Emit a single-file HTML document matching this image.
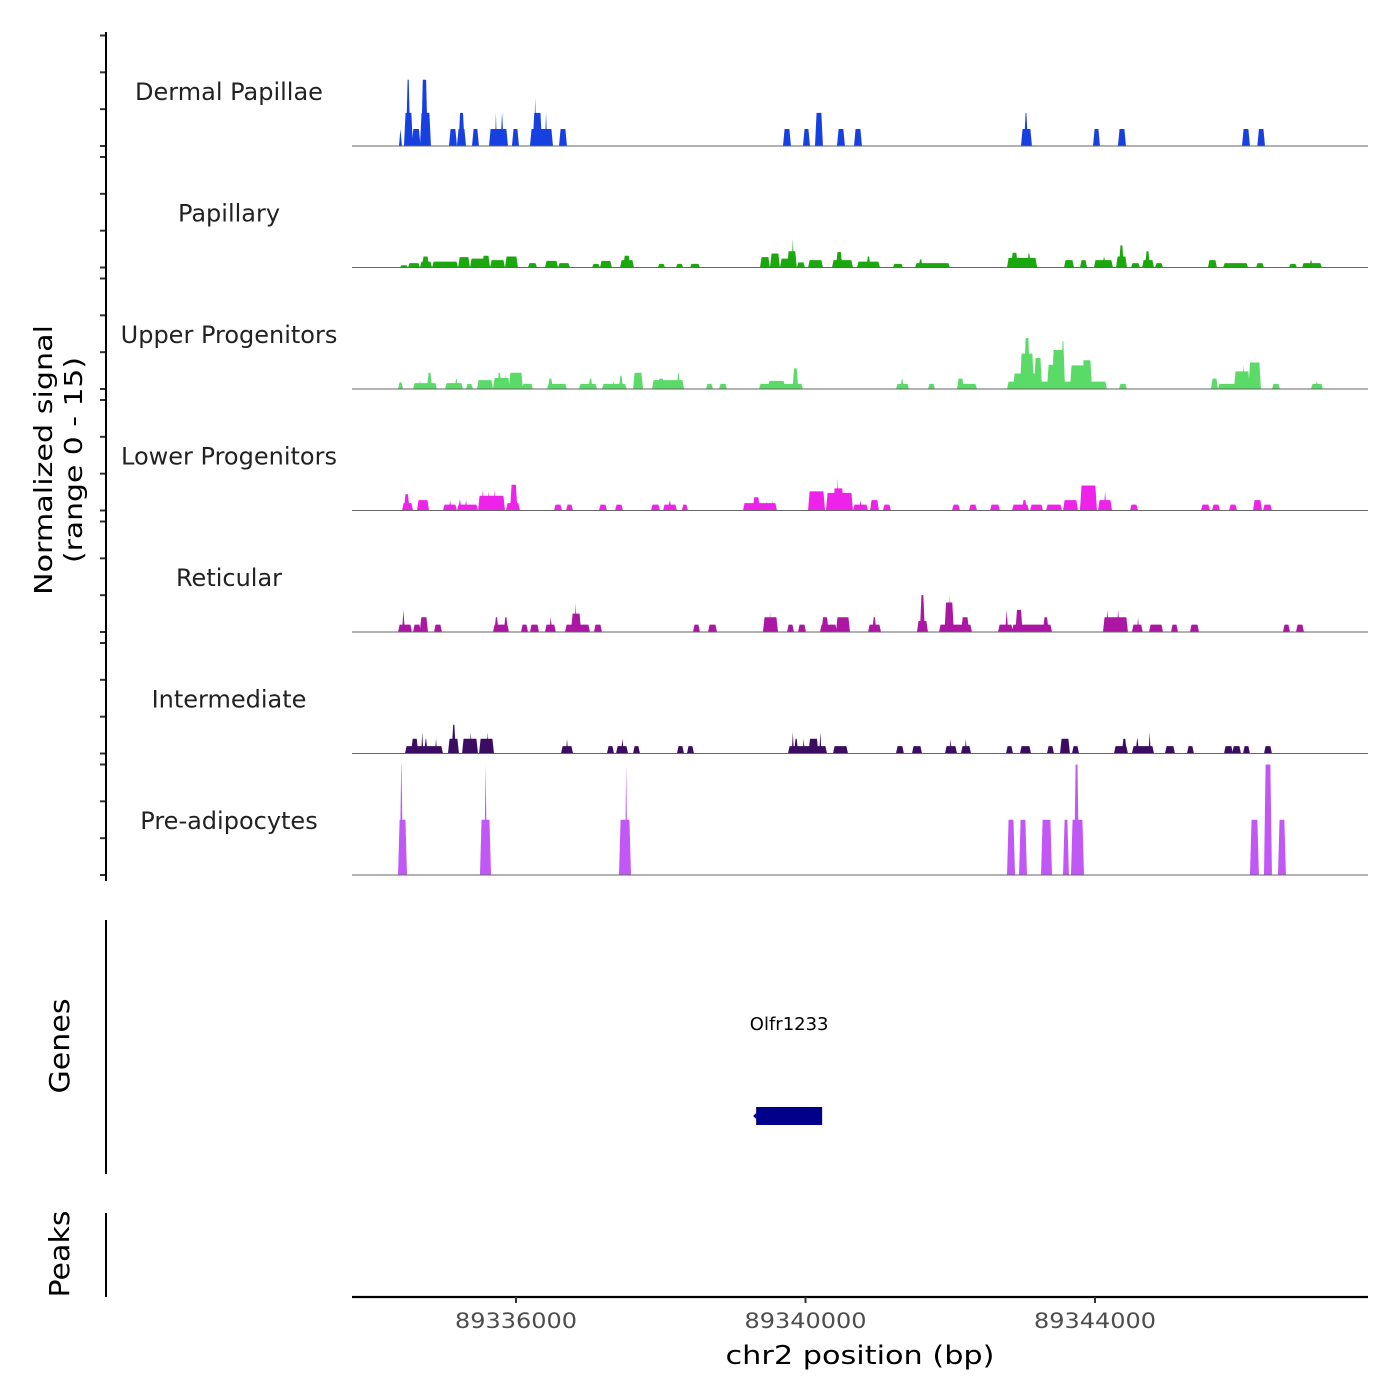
<!DOCTYPE html>
<html>
<head>
<meta charset="utf-8">
<style>
  html,body{margin:0;padding:0;background:#fff;}
  svg{display:block;font-family:"DejaVu Sans","Liberation Sans",sans-serif;}
</style>
</head>
<body>
<svg id="chart" width="1400" height="1400" viewBox="0 0 1400 1400" xmlns="http://www.w3.org/2000/svg">
  <rect x="0" y="0" width="1400" height="1400" fill="#fff"/>
  <g id="tracks"></g>
  <g id="axes"></g>
  <text x="0" y="0" transform="translate(52,460) rotate(-90)" text-anchor="middle" font-size="25" fill="#000"><tspan x="0" dy="0" textLength="270" lengthAdjust="spacingAndGlyphs">Normalized signal</tspan><tspan x="0" dy="30" textLength="206" lengthAdjust="spacingAndGlyphs">(range 0 - 15)</tspan></text>
  <line x1="106" y1="920" x2="106" y2="1174" stroke="#000" stroke-width="2"/>
  <text transform="translate(69,1046) rotate(-90)" text-anchor="middle" font-size="28" fill="#000" textLength="95" lengthAdjust="spacingAndGlyphs">Genes</text>
  <line x1="106" y1="1213" x2="106" y2="1297" stroke="#000" stroke-width="2"/>
  <text transform="translate(69,1254) rotate(-90)" text-anchor="middle" font-size="28" fill="#000" textLength="87" lengthAdjust="spacingAndGlyphs">Peaks</text>
  <g id="genes"></g>
  <text x="860" y="1364" text-anchor="middle" font-size="26" fill="#000" textLength="269" lengthAdjust="spacingAndGlyphs">chr2 position (bp)</text>
</svg>
<script>
// All positions are bp offsets from 89,330,000 on chr2
const BASE = 89330000;
const domainStart = 3734;
const domainEnd = 17772;
const xTickValues = [89336000, 89340000, 89344000];
const xTickLabels = ["89336000", "89340000", "89344000"];
const trackNames = ["Dermal Papillae","Papillary","Upper Progenitors","Lower Progenitors","Reticular","Intermediate","Pre-adipocytes"];
const trackColors = ["#1740E0","#1AA80E","#5ADB68","#EE22E8","#AB16A3","#3C0C62","#C158F6"];
const yTickValues = [0,5,10,15];
const signalMax = 15;

// segments: [startOffset, endOffset, signal]
const dermalPapillae = [[4383,4424,2.3],[4452,4576,4.5],[4480,4540,9],[4560,4680,2.3],[4673,4825,4.5],[4690,4780,9],[5074,5184,2.3],[5184,5309,2.3],[5205,5290,4.5],[5392,5488,2.3],[5627,5889,2.3],[5710,5735,4.5],[5785,5830,4.5],[5944,6041,2.3],[6193,6511,2.3],[6230,6360,4.5],[6250,6280,6.6],[6400,6430,4.5],[6594,6704,2.3],[9689,9799,2.3],[9965,10062,2.3],[10131,10241,4.5],[10435,10545,2.3],[10670,10780,2.3],[12977,13129,2.3],[13019,13074,4.5],[13972,14069,2.3],[14317,14428,2.3],[16031,16141,2.3],[16243,16349,2.3]];
const papillary = [[4397,4508,0.3],[4508,4673,0.6],[4673,4840,0.8],[4700,4800,1.5],[4840,5200,0.8],[5200,5364,1.4],[5364,5641,1.2],[5530,5641,1.6],[5641,5848,1.0],[5848,6027,1.5],[6165,6290,0.6],[6400,6580,0.9],[6580,6746,0.6],[7050,7160,0.5],[7160,7325,0.9],[7437,7630,1.0],[7480,7580,1.6],[7960,8060,0.5],[8210,8310,0.5],[8404,8542,0.5],[9371,9509,1.4],[9509,9647,1.9],[9647,9786,1.2],[9745,9880,2.2],[9810,9840,3.9],[9880,9993,0.7],[10035,10241,1.0],[10366,10656,1.0],[10420,10510,2.1],[10711,11029,0.8],[10840,10900,1.5],[11208,11347,0.5],[11513,11996,0.6],[11560,11620,1.1],[12784,13200,1.3],[12840,12935,2.0],[13060,13115,1.9],[13571,13710,1.0],[13792,13890,1.0],[13985,14248,1.0],[14100,14150,1.4],[14290,14442,1.5],[14330,14400,3.0],[14497,14621,0.6],[14650,14815,1.0],[14690,14760,2.2],[14829,14940,0.6],[15560,15685,1.0],[15770,16115,0.6],[16225,16335,0.6],[16680,16790,0.5],[16860,17135,0.6],[16960,17010,1.0]];
const upperProgenitors = [[4370,4440,0.9],[4577,4908,0.8],[4650,4700,1.0],[4770,4840,2.2],[5019,5267,0.8],[5150,5200,1.4],[5309,5405,0.7],[5461,5682,1.2],[5682,5917,1.5],[5740,5800,2.2],[5830,5870,2.0],[5900,6097,2.2],[6080,6235,0.7],[6428,6704,0.7],[6440,6510,1.4],[6870,7120,0.7],[7000,7060,1.4],[7188,7530,0.7],[7420,7480,1.8],[7330,7370,1.1],[7617,7755,2.2],[7879,8321,1.2],[7960,8050,1.4],[8220,8270,2.2],[8625,8722,0.7],[8805,8915,0.7],[9357,9965,0.7],[9480,9720,1.1],[9820,9900,2.8],[11250,11430,0.7],[11310,11360,1.4],[11692,11790,0.7],[12093,12370,0.7],[12093,12190,1.4],[12784,14165,1.0],[12867,13268,2.1],[12963,13157,4.8],[13019,13102,6.9],[13157,13268,4.2],[13337,13585,3.3],[13406,13585,5.3],[13530,13585,6.5],[13654,13958,3.2],[13820,13958,3.9],[14331,14442,0.7],[15602,15699,1.4],[15699,15962,0.7],[15920,16141,2.4],[16030,16070,3.3],[16120,16293,3.6],[16445,16556,0.7],[16984,17150,0.7],[17040,17090,1.0]];
const lowerProgenitors = [[4425,4577,1.0],[4450,4530,2.2],[4632,4798,1.4],[4991,5184,0.8],[5070,5110,1.4],[5184,5475,0.8],[5200,5250,1.4],[5290,5330,1.4],[5475,5848,2.0],[5520,5560,2.8],[5600,5640,2.6],[5680,5720,2.8],[5861,6055,1.0],[5917,6020,3.5],[6525,6636,0.8],[6691,6788,0.8],[7146,7257,0.8],[7368,7478,0.8],[7865,7989,0.8],[8031,8224,0.8],[8100,8150,1.3],[8290,8376,0.8],[9136,9606,1.0],[9270,9371,1.8],[9450,9470,1.4],[9530,9550,1.4],[10035,10270,2.6],[10283,10656,2.4],[10380,10530,3.0],[10430,10460,4.4],[10656,10864,0.8],[10740,10780,1.4],[10891,11015,1.4],[11070,11180,0.8],[12024,12134,0.8],[12259,12370,0.8],[12549,12687,0.8],[12853,13088,0.8],[12990,13060,1.4],[13102,13282,0.8],[13323,13544,0.8],[13558,13765,1.4],[13792,14027,3.4],[14041,14235,1.4],[14120,14160,2.6],[14483,14594,0.8],[15464,15589,0.8],[15616,15727,0.8],[15851,15962,0.8],[16183,16307,1.4],[16321,16445,0.8]];
const reticular = [[4370,4563,1.0],[4425,4465,3.0],[4577,4687,1.0],[4670,4784,2.0],[4867,4977,1.0],[5682,5903,1.0],[5700,5760,2.0],[5830,5890,2.0],[6069,6166,1.0],[6193,6318,1.0],[6400,6550,1.0],[6460,6500,2.0],[6677,7022,1.0],[6760,6900,2.5],[6810,6840,3.9],[7077,7188,1.0],[8445,8542,1.0],[8653,8777,1.0],[9412,9620,2.0],[9500,9520,2.8],[9745,9841,1.0],[9896,10007,1.0],[10200,10435,1.0],[10220,10320,2.0],[10420,10615,2.0],[10864,11043,1.0],[10920,10980,2.0],[11540,11692,1.5],[11580,11650,5.0],[11844,12300,1.0],[11920,12050,4.0],[11980,12010,5.0],[12150,12260,2.0],[12660,12867,1.0],[12760,12800,3.0],[12850,13406,1.0],[12900,13000,3.0],[13280,13360,2.0],[14110,14455,2.0],[14150,14190,3.0],[14300,14340,3.0],[14510,14660,1.0],[14580,14610,2.0],[14746,14940,1.0],[15050,15147,1.0],[15312,15437,1.0],[16597,16694,1.0],[16777,16887,1.0]];
const intermediate = [[4466,4991,1.0],[4550,4650,2.0],[4690,4720,2.9],[4730,4780,2.0],[4880,4910,2.0],[5060,5212,2.0],[5110,5170,3.9],[5254,5475,2.0],[5360,5390,2.9],[5489,5696,2.0],[5590,5620,2.9],[6622,6788,1.0],[6690,6720,2.0],[7257,7354,1.0],[7382,7548,1.0],[7450,7490,2.0],[7617,7713,1.0],[8224,8321,1.0],[8362,8459,1.0],[9758,10297,1.0],[9810,9840,2.9],[9840,9900,2.0],[9960,9990,2.0],[10040,10180,2.0],[10190,10220,2.9],[10380,10587,1.0],[11250,11360,1.0],[11471,11610,1.0],[11927,12093,1.0],[11990,12020,2.0],[12148,12287,1.0],[12200,12230,2.0],[12770,12867,1.0],[12963,13116,1.0],[13337,13433,1.0],[13516,13654,2.0],[13682,13779,1.0],[14262,14455,1.0],[14370,14440,2.0],[14510,14815,1.0],[14560,14610,2.0],[14740,14770,2.9],[14967,15105,1.0],[15271,15367,1.0],[15782,15906,1.0],[15895,16017,1.0],[16045,16141,1.0],[16335,16445,1.0]];
const preAdipocytes = [[4370,4494,7.5],[4392,4440,15],[5502,5655,7.5],[5560,5600,15],[7423,7589,7.5],[7505,7540,15],[12784,12895,7.5],[12950,13060,7.5],[13254,13406,7.5],[13558,13640,7.5],[13668,13848,7.5],[13710,13780,15],[16141,16265,7.5],[16335,16445,15],[16528,16638,7.5]];

const geneName = "Olfr1233";
const geneStart = 9318;
const geneEnd = 10230;

const trackData = [dermalPapillae,papillary,upperProgenitors,lowerProgenitors,reticular,intermediate,preAdipocytes];

const NS = "http://www.w3.org/2000/svg";
const plotLeft = 352, plotRight = 1368;
const firstBaseline = 146, trackStep = 121.5, trackHeight = 110.5;
function xScale(off){ return plotLeft + (off - domainStart) / (domainEnd - domainStart) * (plotRight - plotLeft); }
function xScaleBp(bp){ return xScale(bp - BASE); }
function baselineOf(i){ return firstBaseline + i * trackStep; }
function yScale(i, v){ return baselineOf(i) - v / signalMax * trackHeight; }
function mk(tag, attrs, parent){ const e=document.createElementNS(NS,tag); for(const k in attrs) e.setAttribute(k, attrs[k]); parent.appendChild(e); return e; }

const tracksG = document.getElementById('tracks');
const axesG = document.getElementById('axes');
const RAMP = 22;

trackData.forEach((segs, i) => {
  const g = mk('g', {}, tracksG);
  
  
  const label = mk('text', {x:229, y:baselineOf(i)-46, 'text-anchor':'middle', 'font-size':24, fill:'#222'}, g);
  label.textContent = trackNames[i];
  
  
  const b = baselineOf(i);
  segs.forEach(s => {
    const x0 = xScale(s[0]), x1 = xScale(s[1]);
    const r = Math.min((x1 - x0) / 2, RAMP / (domainEnd - domainStart) * (plotRight - plotLeft));
    const yt = yScale(i, s[2]);
    const p = mk('polygon', {points: `${x0},${b} ${x0+r},${yt} ${x1-r},${yt} ${x1},${b}`, fill: trackColors[i]}, g);
    
    
  });
  const bl = mk('line', {x1:plotLeft, x2:plotRight, y1:b, y2:b, stroke:'#666', 'stroke-width':1}, g);
  
  
  yTickValues.forEach(v => {
    const y = yScale(i, v);
    const t = mk('line', {x1:100, x2:106, y1:y, y2:y, stroke:'#333', 'stroke-width':2}, axesG);
    
    
  });
});

const yAxis = mk('line', {x1:106, x2:106, y1:32, y2:881, stroke:'#000', 'stroke-width':2}, axesG);



const xAxis = mk('line', {x1:plotLeft, x2:plotRight, y1:1297, y2:1297, stroke:'#000', 'stroke-width':2.2}, axesG);


xTickValues.forEach((v, k) => {
  const x = xScaleBp(v);
  const t = mk('line', {x1:x, x2:x, y1:1297, y2:1303, stroke:'#333', 'stroke-width':2}, axesG);
  
  
  const l = mk('text', {x:x, y:1328, 'text-anchor':'middle', 'font-size':21, fill:'#4d4d4d', textLength:122, lengthAdjust:'spacingAndGlyphs'}, axesG);
  l.textContent = xTickLabels[k];
  
  
});

const genesG = document.getElementById('genes');
const gx0 = xScale(geneStart), gx1 = xScale(geneEnd);
const gl = mk('text', {x:(gx0+gx1)/2, y:1030, 'text-anchor':'middle', 'font-size':18, fill:'#000'}, genesG);
gl.textContent = geneName;


const gr = mk('rect', {x:gx0, y:1107, width:gx1-gx0, height:18, fill:'#00008B'}, genesG);


const ga = mk('polygon', {points:`${gx0-3},1116 ${gx0},1113 ${gx0},1119`, fill:'#00008B'}, genesG);


</script>
</body>
</html>
